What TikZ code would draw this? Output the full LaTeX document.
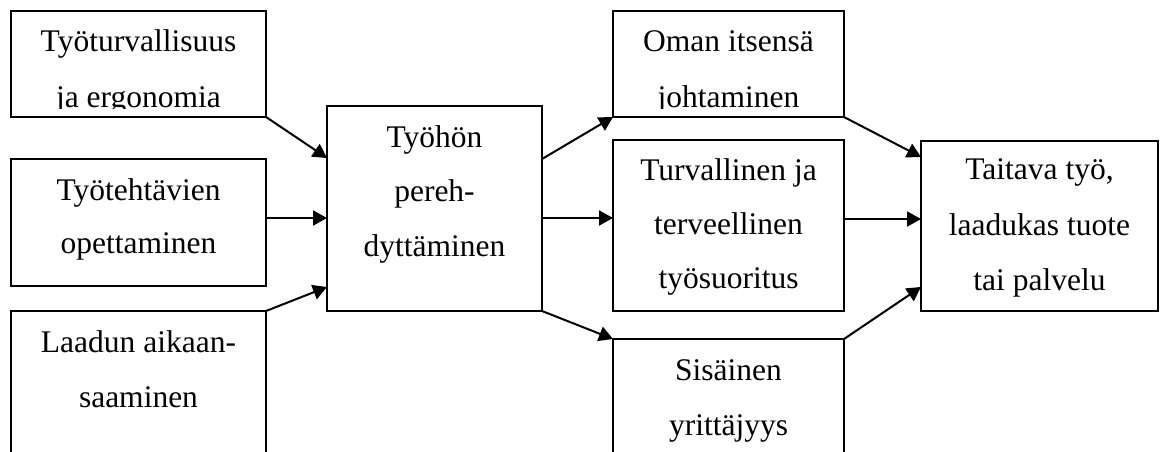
\documentclass[tikz,border=0pt]{standalone}
\usepackage{fontspec}
\setmainfont{Liberation Serif}
\usetikzlibrary{arrows.meta}
\begin{document}
\begin{tikzpicture}[x=1pt,y=-1pt,
  boxnode/.style={draw, line width=1.3pt, inner sep=0pt, outer sep=0pt, anchor=north west},
  lbl/.style={anchor=base, inner sep=0pt, font=\fontsize{31.5}{38}\selectfont},
  conn/.style={line width=2pt, -{Triangle[length=14pt,width=15pt]}}]
\useasboundingbox (0,0) rectangle (1161,452);
\clip (0,0) rectangle (1161,452);
% boxes
\node[boxnode, minimum width=255pt, minimum height=106pt] (b1) at (11,11) {};
\node[boxnode, minimum width=255pt, minimum height=127pt] (b2) at (11,159) {};
\node[boxnode, minimum width=255pt, minimum height=170pt] (b3) at (11,311) {};
\node[boxnode, minimum width=215pt, minimum height=205pt] (c) at (327,106) {};
\node[boxnode, minimum width=231pt, minimum height=106pt] (o1) at (613,11) {};
\node[boxnode, minimum width=231pt, minimum height=171pt] (o2) at (613,140) {};
\node[boxnode, minimum width=231pt, minimum height=150pt] (o3) at (613,339) {};
\node[boxnode, minimum width=237pt, minimum height=170pt] (t) at (921,141) {};
% texts
\begin{scope}
\clip (0,0) rectangle (1161,108.5);
\node[lbl] (b1a) at (138.5,52) {Työturvallisuus};
\node[lbl] (b1b) at (138.5,107) {ja ergonomia};
\node[lbl] (o1a) at (728.5,52) {Oman itsensä};
\node[lbl] (o1b) at (728.5,107) {johtaminen};
\end{scope}
\node[lbl] (b2a) at (138.5,200) {Työtehtävien};
\node[lbl] (b2b) at (138.5,253) {opettaminen};
\node[lbl] (b3a) at (138.5,352) {Laadun aikaan-};
\node[lbl] (b3b) at (138.5,407) {saaminen};
\node[lbl] (ca) at (434.5,147) {Työhön};
\node[lbl] (cb) at (434.5,201) {pereh-};
\node[lbl] (cc) at (434.5,256) {dyttäminen};
\node[lbl] (o2a) at (728.5,180) {Turvallinen ja};
\node[lbl] (o2b) at (728.5,234) {terveellinen};
\node[lbl] (o2c) at (728.5,288) {työsuoritus};
\node[lbl] (o3a) at (728.5,380) {Sisäinen};
\node[lbl] (o3b) at (728.5,435) {yrittäjyys};
\node[lbl] (ta) at (1039.5,179) {Taitava työ,};
\node[lbl] (tb) at (1039.5,235) {laadukas tuote};
\node[lbl] (tc) at (1039.5,290) {tai palvelu};
% connector anchor points
\coordinate (cin1) at (327,158);
\coordinate (b2out) at (266,218);
\coordinate (cin2) at (327,218);
\coordinate (cin3) at (327,287);
\coordinate (cout1) at (542,159);
\coordinate (cout2) at (542,218);
\coordinate (o2in) at (613,218);
\coordinate (tin1) at (921,157);
\coordinate (o2out) at (844,219);
\coordinate (tin2) at (921,219);
\coordinate (tin3) at (921,287);
% connectors
\draw[conn] (b1.south east) -- (cin1);
\draw[conn] (b2out) -- (cin2);
\draw[conn] (b3.north east) -- (cin3);
\draw[conn] (cout1) -- (o1.south west);
\draw[conn] (cout2) -- (o2in);
\draw[conn] (c.south east) -- (o3.north west);
\draw[conn] (o1.south east) -- (tin1);
\draw[conn] (o2out) -- (tin2);
\draw[conn] (o3.north east) -- (tin3);
\end{tikzpicture}
\end{document}
